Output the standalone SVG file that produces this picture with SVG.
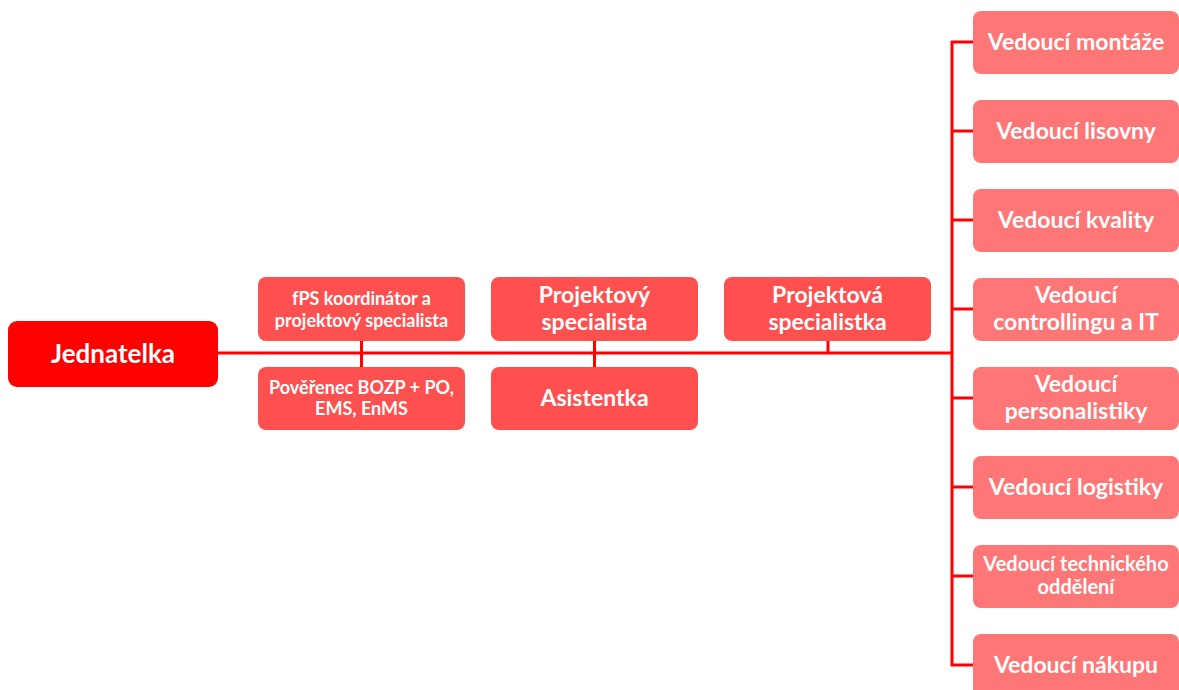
<svg xmlns="http://www.w3.org/2000/svg" width="1179" height="690" viewBox="0 0 1179 690">
  <style>
    .root { fill: #FF0000; }
    .mid { fill: #FF5050; }
    .dept { fill: #FF7676; }
    text { font-family: "Lato", "Noto Sans", "Liberation Sans", sans-serif; font-weight: bold; fill: #FFFFFF; text-anchor: middle; }
    .t26 { font-size: 26px; }
    .t23 { font-size: 23px; }
    .t18 { font-size: 18px; }
    .t20 { font-size: 20px; }
    .link { stroke: #FF0000; stroke-width: 3; fill: none; }
  </style>

  <!-- connectors -->
  <g id="connectors" class="link">
    <line x1="218" y1="353" x2="952" y2="353"/>
    <line x1="361.5" y1="341" x2="361.5" y2="367"/>
    <line x1="594.5" y1="341" x2="594.5" y2="367"/>
    <line x1="828" y1="341" x2="828" y2="353"/>
    <line x1="952" y1="41" x2="952" y2="666"/>
    <line x1="951" y1="42" x2="973" y2="42"/>
    <line x1="951" y1="131" x2="973" y2="131"/>
    <line x1="951" y1="220" x2="973" y2="220"/>
    <line x1="951" y1="309" x2="973" y2="309"/>
    <line x1="951" y1="398" x2="973" y2="398"/>
    <line x1="951" y1="487" x2="973" y2="487"/>
    <line x1="951" y1="576" x2="973" y2="576"/>
    <line x1="951" y1="665" x2="973" y2="665"/>
  </g>

  <g id="jednatelka">
    <rect class="root" x="8" y="321" width="210" height="66" rx="9"/>
    <text class="t26" x="113" y="363">Jednatelka</text>
  </g>

  <g id="fps-koordinator">
    <rect class="mid" x="258" y="277" width="207" height="64" rx="8"/>
    <text class="t18" x="361.5" y="305">fPS koordinátor a</text>
    <text class="t18" x="361.5" y="327">projektový specialista</text>
  </g>

  <g id="poverenec">
    <rect class="mid" x="258" y="367" width="207" height="63" rx="8"/>
    <text class="t18" x="361.5" y="394">Pověřenec BOZP + PO,</text>
    <text class="t18" x="361.5" y="415">EMS, EnMS</text>
  </g>

  <g id="projektovy-specialista">
    <rect class="mid" x="491" y="277" width="207" height="64" rx="8"/>
    <text class="t23" x="594.5" y="303">Projektový</text>
    <text class="t23" x="594.5" y="330">specialista</text>
  </g>

  <g id="asistentka">
    <rect class="mid" x="491" y="367" width="207" height="63" rx="8"/>
    <text class="t23" x="594.5" y="406">Asistentka</text>
  </g>

  <g id="projektova-specialistka">
    <rect class="mid" x="724" y="277" width="207" height="64" rx="8"/>
    <text class="t23" x="827.5" y="303">Projektová</text>
    <text class="t23" x="827.5" y="330">specialistka</text>
  </g>

  <g id="vedouci-montaze">
    <rect class="dept" x="973" y="11" width="206" height="63" rx="8"/>
    <text class="t23" x="1076" y="50">Vedoucí montáže</text>
  </g>

  <g id="vedouci-lisovny">
    <rect class="dept" x="973" y="100" width="206" height="63" rx="8"/>
    <text class="t23" x="1076" y="139">Vedoucí lisovny</text>
  </g>

  <g id="vedouci-kvality">
    <rect class="dept" x="973" y="189" width="206" height="63" rx="8"/>
    <text class="t23" x="1076" y="228">Vedoucí kvality</text>
  </g>

  <g id="vedouci-controllingu">
    <rect class="dept" x="973" y="278" width="206" height="63" rx="8"/>
    <text class="t23" x="1076" y="303">Vedoucí</text>
    <text class="t23" x="1076" y="330">controllingu a IT</text>
  </g>

  <g id="vedouci-personalistiky">
    <rect class="dept" x="973" y="367" width="206" height="63" rx="8"/>
    <text class="t23" x="1076" y="392">Vedoucí</text>
    <text class="t23" x="1076" y="419">personalistiky</text>
  </g>

  <g id="vedouci-logistiky">
    <rect class="dept" x="973" y="456" width="206" height="63" rx="8"/>
    <text class="t23" x="1076" y="495">Vedoucí logistiky</text>
  </g>

  <g id="vedouci-technickeho">
    <rect class="dept" x="973" y="545" width="206" height="63" rx="8"/>
    <text class="t20" x="1076" y="571">Vedoucí technického</text>
    <text class="t20" x="1076" y="594">oddělení</text>
  </g>

  <g id="vedouci-nakupu">
    <rect class="dept" x="973" y="634" width="206" height="63" rx="8"/>
    <text class="t23" x="1076" y="673">Vedoucí nákupu</text>
  </g>
</svg>
